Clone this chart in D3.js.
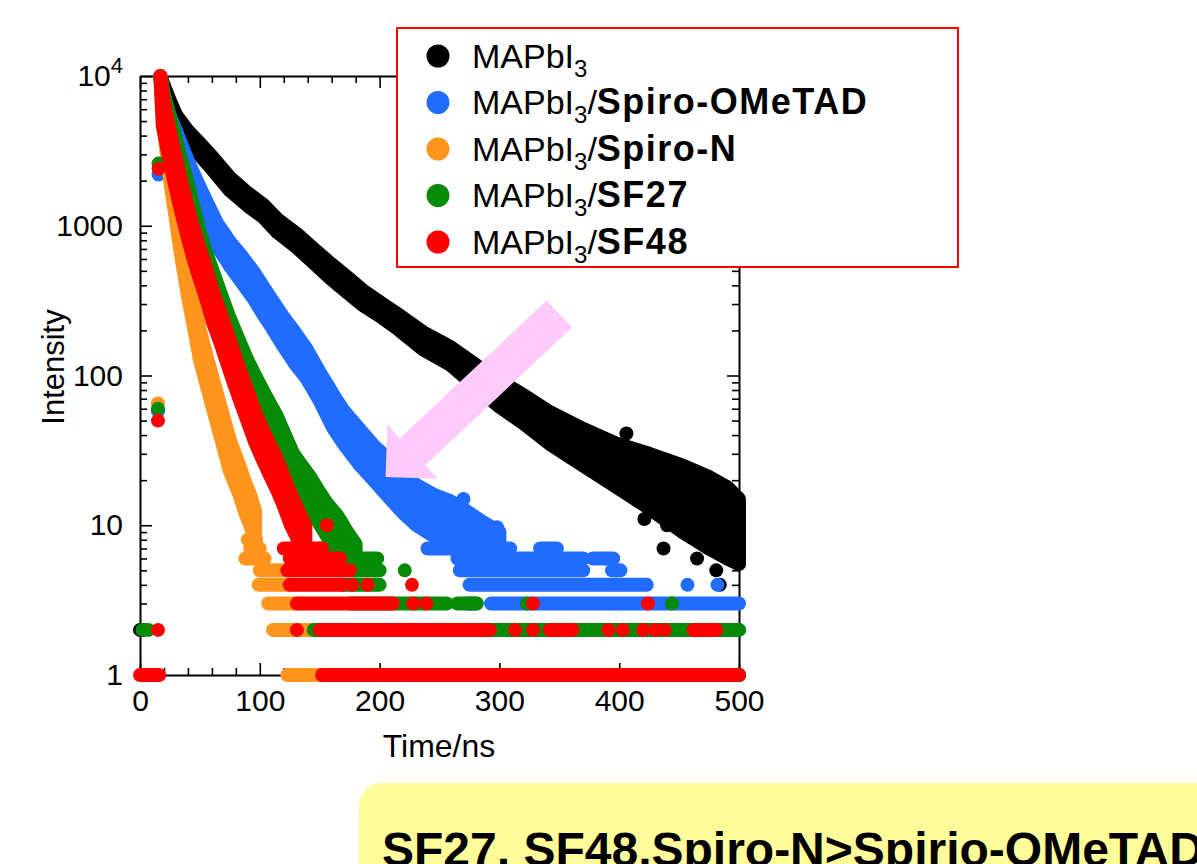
<!DOCTYPE html>
<html><head><meta charset="utf-8">
<script src="https://cdn.jsdelivr.net/npm/d3@7"></script>
<style>
html,body{margin:0;padding:0;background:#fff;overflow:hidden;}
svg{display:block;font-family:"Liberation Sans",Arial,Helvetica,sans-serif;}
</style></head><body>
<svg id="chart" width="1197" height="864"></svg>
<script>
// ---------- tick labels ----------
const xTickValues = [0, 100, 200, 300, 400, 500];
const xMinorStep = 20;
const yTickValues = [1, 10, 100, 1000, 10000];
const yTickLabels = ["1", "10", "100", "1000", "10^4"];
const xTitle = "Time/ns";
const yTitle = "Intensity";

// ---------- series: dense decay bands (time, upper, lower) ----------
const blackT  = [17,20,25,30,40,50,60,75,90,103,115,131,145,159,172,186,200,214,236,259,280,300,320,342,370,398,425,453,475,490,500];
const blackHi = [10000,8600,6800,5500,4300,3550,2900,2100,1650,1380,1100,880,700,560,460,370,310,260,195,155,118,92,74,57,44,35,30,25,21,18,15];
const blackLo = [10000,7400,5700,4550,3550,2950,2400,1720,1360,1140,900,715,565,445,365,295,250,208,150,118,85,62,48,35,25,18,13,9,7,6,5.5];

const blueT  = [17,20,25,30,35,40,48,55,64,75,84,95,103,110,119,130,139,150,161,170,184,195,209,220,231,245,259,272,286,300];
const blueHi = [10000,7300,5400,4300,3400,2700,1950,1480,1050,780,640,490,390,320,250,190,150,105,75,58,43,34,27,22,18.5,16,14.5,12.5,10.5,9];
const blueLo = [10000,5700,4100,3200,2450,1950,1400,1050,740,540,430,325,255,210,160,118,96,68,45,35,25,20,15,12,10,8.5,7.2,6.2,5.5,5.5];

const orangeT  = [17,19.5,22.5,26,30,33,36,40,45,50,55,60,67,75,83,88,92,96];
const orangeHi = [10000,7000,4200,2650,1650,1100,800,520,320,200,140,100,63,37,25,19,16,12.5];
const orangeLo = [10000,5100,2900,1800,1100,740,530,340,210,128,90,64,40,23,16,12,10,8];

const greenT  = [17,20,24,28,33,39,44,50,55,61,68,75,83.5,90,97.5,105,114,121,128,135,142,149,156,165,173,180];
const greenHi = [10000,7500,5600,4400,3000,2050,1400,900,670,490,340,240,165,125,95,73,54,40,30,25,21,17,14,11.5,9,7.5];
const greenLo = [10000,4800,3600,2800,1900,1300,880,570,420,305,215,152,105,80,60,46,34,25,19,16,13.5,10.5,8.5,7,5.5,5];

const redT  = [17,19,23,27.6,32,36,40,44,48,52.6,57,61,67,72.6,78,83.5,90,96,102,108,114,120,126,132,138];
const redHi = [10000,7300,5000,3400,2400,1750,1320,1000,780,600,465,357,265,194,145,108,78,57,44,35,28,21,16,12.5,10];
const redLo = [10000,4650,3200,2150,1500,1110,830,630,490,380,294,225,167,122,91,68,49,36,28,22,17.5,13.5,10,8,6.5];

// ---------- integer-count rows: [count, from t, to t] ----------
const blackRuns  = [[1,160,500],[2,0,3]];
const blueRuns   = [[1,160,500],[2,260,500],[3,273,281],[3,293,500],[4,275,423],[5,267,370],[5,394,401],[6,265,370],[6,378,395],[7,240,309],[7,334,348]];
const orangeRuns = [[8,90,97],[7,92,100],[6,88,104],[5,100,122],[4,99,125],[3,107,131],[2,111,148],[1,123,155]];
const greenRuns  = [[1,160,500],[2,145,500],[3,175,256],[3,265,281],[4,169,200],[5,175,200],[6,150,198],[7,150,176]];
const redRuns    = [[1,0,16],[1,152,500],[2,150,288],[2,342,361],[2,462,481],[3,131,211],[4,125,169],[5,123,175],[6,125,167],[7,120,152]];

// ---------- isolated points: [t, intensity] ----------
const blackDots  = [[1,2],[406,41],[456,24],[497,15],[421,11],[440,10],[470,9],[490,8],[437,7],[475,7],[465,6],[498,6],[481,5],[484,4]];
const blueDots   = [[15,58],[15.5,2200],[270,15],[298,9.7],[457,4],[482,4]];
const orangeDots = [[15,65],[15.5,2600]];
const greenDots  = [[15,60],[15.5,2600],[2,2],[7,2],[221,5],[323,3],[444,3]];
const redDots    = [[15,50],[15.5,2400],[15,2],[131,2],[292,2],[313,2],[328,2],[391,2],[403,2],[420,2],[430,2],[438,2],[228,3],[239,3],[328,3],[424,3],[177,4],[190,4],[227,4],[156,10]];

// ---------- legend ----------
const seriesNames = ["MAPbI3", "MAPbI3/Spiro-OMeTAD", "MAPbI3/Spiro-N", "MAPbI3/SF27", "MAPbI3/SF48"];
const legendBold  = ["", "Spiro-OMeTAD", "Spiro-N", "SF27", "SF48"];
const seriesColors = ["#000000", "#1f6cff", "#ff951c", "#078a07", "#ff0000"];

// ---------- annotations ----------
const arrowFrom = [350, 257];   // data coords (t, intensity)
const arrowTo   = [205, 21];
const noteText = "SF27, SF48,Spiro-N>Spirio-OMeTAD";

// =====================================================
const svg = d3.select("#chart");
const x = d3.scaleLinear().domain([0, 500]).range([140, 739]);
const y = d3.scaleLog().domain([1, 10000]).range([675, 76]);
const R = 7;
const FONT = "Liberation Sans, Arial, Helvetica, sans-serif";

// ---------- axes (inward ticks, mirrored) ----------
const axG = svg.append("g");
const xMinor = d3.range(0, 501, xMinorStep).filter(v => !xTickValues.includes(v));
const yMinor = [];
yTickValues.slice(0, -1).forEach(d => { for (let k = 2; k <= 9; k++) yMinor.push(d * k); });

function styleAxis(g) {
  g.attr("font-family", FONT).attr("font-size", 30);
  g.selectAll("path.domain").attr("stroke", "#000").attr("stroke-width", 2);
  g.selectAll(".tick line").attr("stroke", "#000").attr("stroke-width", 1.6);
  g.selectAll(".tick text").attr("fill", "#000");
}
// bottom
axG.append("g").attr("transform", "translate(0,675)")
  .call(d3.axisBottom(x).tickValues(xTickValues).tickSize(-12).tickSizeOuter(0).tickPadding(15).tickFormat(d3.format("d")))
  .call(styleAxis);
axG.append("g").attr("transform", "translate(0,675)")
  .call(d3.axisBottom(x).tickValues(xMinor).tickSize(-7).tickSizeOuter(0).tickFormat(""))
  .call(styleAxis).call(g => g.select(".domain").remove());
// top
axG.append("g").attr("transform", "translate(0,76)")
  .call(d3.axisTop(x).tickValues(xTickValues).tickSize(-12).tickSizeOuter(0).tickFormat(""))
  .call(styleAxis);
axG.append("g").attr("transform", "translate(0,76)")
  .call(d3.axisTop(x).tickValues(xMinor).tickSize(-7).tickSizeOuter(0).tickFormat(""))
  .call(styleAxis).call(g => g.select(".domain").remove());
// left
const leftAx = axG.append("g").attr("transform", "translate(140,0)")
  .call(d3.axisLeft(y).tickValues(yTickValues).tickSize(-12).tickSizeOuter(0).tickPadding(17)
    .tickFormat((d, i) => yTickLabels[i]))
  .call(styleAxis);
axG.append("g").attr("transform", "translate(140,0)")
  .call(d3.axisLeft(y).tickValues(yMinor).tickSize(-7).tickSizeOuter(0).tickFormat(""))
  .call(styleAxis).call(g => g.select(".domain").remove());
// right
axG.append("g").attr("transform", "translate(739,0)")
  .call(d3.axisRight(y).tickValues(yTickValues).tickSize(-12).tickSizeOuter(0).tickFormat(""))
  .call(styleAxis);
axG.append("g").attr("transform", "translate(739,0)")
  .call(d3.axisRight(y).tickValues(yMinor).tickSize(-7).tickSizeOuter(0).tickFormat(""))
  .call(styleAxis).call(g => g.select(".domain").remove());

// superscript label for 10^4
leftAx.selectAll(".tick text").each(function (d, i) {
  const lab = yTickLabels[i];
  if (lab.includes("^")) {
    const [b, e] = lab.split("^");
    const t = d3.select(this).text(null);
    t.append("tspan").text(b);
    t.append("tspan").attr("font-size", 22).attr("dy", -13).text(e);
  }
});

// axis titles
svg.append("text").attr("x", 439).attr("y", 757).attr("text-anchor", "middle")
  .attr("font-family", FONT).attr("font-size", 32).text(xTitle);
svg.append("text").attr("transform", "translate(64,367) rotate(-90)").attr("text-anchor", "middle")
  .attr("font-family", FONT).attr("font-size", 31).text(yTitle);

// ---------- data ----------
const dataG = svg.append("g");
const series = [
  {T: blackT,  hi: blackHi,  lo: blackLo,  runs: blackRuns,  dots: blackDots},
  {T: blueT,   hi: blueHi,   lo: blueLo,   runs: blueRuns,   dots: blueDots},
  {T: orangeT, hi: orangeHi, lo: orangeLo, runs: orangeRuns, dots: orangeDots},
  {T: greenT,  hi: greenHi,  lo: greenLo,  runs: greenRuns,  dots: greenDots},
  {T: redT,    hi: redHi,    lo: redLo,    runs: redRuns,    dots: redDots}
];
const area = d3.area().x(d => x(d.t)).y0(d => y(d.lo)).y1(d => y(d.hi));
series.forEach((s, si) => {
  const col = seriesColors[si];
  const g = dataG.append("g");
  const pts = s.T.map((t, i) => ({t, hi: s.hi[i], lo: s.lo[i]}));
  g.append("path").attr("d", area(pts)).attr("fill", col).attr("stroke", col)
    .attr("stroke-width", 2 * R).attr("stroke-linejoin", "round");
  g.selectAll("line.run").data(s.runs).enter().append("line")
    .attr("x1", d => x(d[1])).attr("x2", d => x(d[2]))
    .attr("y1", d => y(d[0])).attr("y2", d => y(d[0]))
    .attr("stroke", col).attr("stroke-width", 2 * R).attr("stroke-linecap", "round");
  g.selectAll("circle.dot").data(s.dots).enter().append("circle")
    .attr("cx", d => x(d[0])).attr("cy", d => y(d[1])).attr("r", R).attr("fill", col);
});

// ---------- arrow annotation ----------
(function () {
  const C = [x(arrowFrom[0]), y(arrowFrom[1])];
  const T = [x(arrowTo[0]), y(arrowTo[1])];
  const dx = T[0] - C[0], dy = T[1] - C[1], L = Math.hypot(dx, dy);
  const u = [dx / L, dy / L], n = [-u[1], u[0]];
  const hl = 37, hw = 37, sw = 18.5;
  const M = [T[0] - u[0] * hl, T[1] - u[1] * hl];
  const p = (P, k) => [P[0] + n[0] * k, P[1] + n[1] * k];
  const poly = [p(C, sw), p(M, sw), p(M, hw), T, p(M, -hw), p(M, -sw), p(C, -sw)];
  svg.append("path").attr("d", d3.line()(poly) + "Z").attr("fill", "#fccbf9");
})();

// ---------- legend ----------
const lg = svg.append("g");
lg.append("rect").attr("x", 397).attr("y", 28).attr("width", 561).attr("height", 239)
  .attr("fill", "#fff").attr("stroke", "#ff0000").attr("stroke-width", 2);
seriesNames.forEach((name, i) => {
  const cy = 56 + i * 46.5;
  lg.append("circle").attr("cx", 438).attr("cy", cy).attr("r", 11.5).attr("fill", seriesColors[i]);
  const t = lg.append("text").attr("x", 472).attr("y", cy + 11.5)
    .attr("font-family", FONT).attr("font-size", 34).attr("fill", "#000");
  t.append("tspan").text("MAPbI");
  t.append("tspan").attr("font-size", 24).attr("dy", 9).text("3");
  if (legendBold[i]) {
    t.append("tspan").attr("dy", -9).text("/");
    t.append("tspan").attr("font-weight", "bold").attr("font-size", 36)
      .attr("letter-spacing", 1.5).text(legendBold[i]);
  }
});

// ---------- note box ----------
svg.append("rect").attr("x", 359).attr("y", 783).attr("width", 900).attr("height", 200)
  .attr("rx", 22).attr("fill", "#fffd99");
svg.append("text").attr("x", 382).attr("y", 866).attr("font-family", FONT)
  .attr("font-size", 48).attr("font-weight", "bold").attr("fill", "#000").text(noteText);
</script>
</body></html>
